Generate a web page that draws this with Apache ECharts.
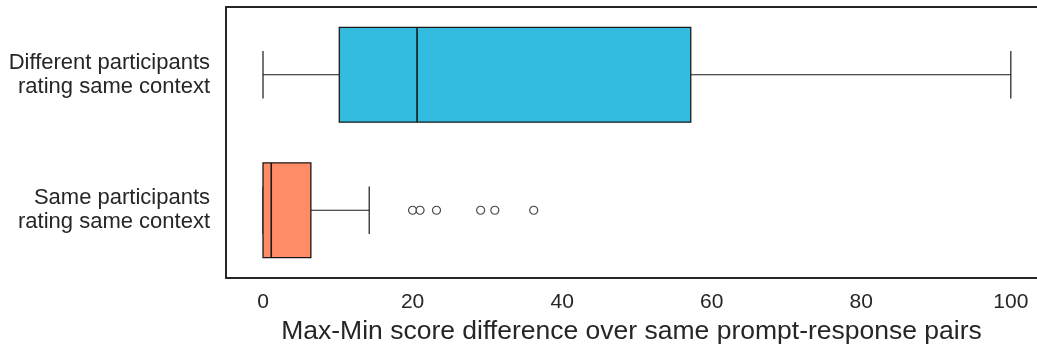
<!DOCTYPE html>
<html>
<head>
<meta charset="utf-8">
<script src="https://cdn.jsdelivr.net/npm/echarts@6/dist/echarts.min.js"></script>
<style>html,body{margin:0;padding:0;background:#fff;overflow:hidden}#c{width:1037px;height:346px}</style>
</head>
<body>
<div id="c"></div>
<script>
// categories (top to bottom)
const categories = ['Different participants\nrating same context', 'Same participants\nrating same context'];
// [min whisker, Q1, median, Q3, max whisker]
const boxDifferent = [0, 10.2, 20.6, 57.2, 100];
const boxSame = [0, 0, 1.1, 6.4, 14.2];
// outliers for "Same participants"
const outliersSame = [20, 21, 23.2, 29.1, 31, 36.2];
const boxColors = ['#33BBE0', '#FF8C66'];
const xTicks = [0, 20, 40, 60, 80, 100];
const xTitle = 'Max-Min score difference over same prompt-response pairs';

const boxes = [boxDifferent, boxSame];
const boxData = boxes.map((b, i) => [i].concat(b));
const outlierData = outliersSame.map(v => [v, 1]);

const chart = echarts.init(document.getElementById('c'), null, {renderer: 'canvas'});
const font = 'Liberation Sans, Arial, sans-serif';
const spine = {show: true, onZero: false, lineStyle: {color: '#262626', width: 2}};

chart.setOption({
  animation: false,
  grid: {left: 226, right: 0, top: 7, bottom: 68, show: false, containLabel: false, outerBoundsMode: 'none'},
  xAxis: [{
    type: 'value', min: -4.95, max: 103.5, position: 'bottom',
    axisLine: spine, axisTick: {show: false}, splitLine: {show: false},
    axisLabel: {
      color: '#262626', fontSize: 21, fontFamily: font, margin: 14,
      customValues: xTicks
    },
    name: xTitle, nameLocation: 'middle', nameGap: 36,
    nameTextStyle: {color: '#262626', fontSize: 26.5, fontFamily: font}
  }, {
    type: 'value', min: -4.95, max: 103.5, position: 'top',
    axisLine: spine, axisTick: {show: false}, splitLine: {show: false},
    axisLabel: {show: false}
  }],
  yAxis: {
    type: 'category', data: categories, inverse: true, position: 'left',
    axisLine: spine, axisTick: {show: false}, splitLine: {show: false},
    axisLabel: {color: '#262626', fontSize: 22, fontFamily: font, margin: 16, align: 'right', lineHeight: 24}
  },
  series: [
    {
      type: 'custom',
      data: boxData,
      encode: {x: [1, 2, 3, 4, 5], y: 0},
      renderItem: function (params, api) {
        const ci = api.value(0);
        const c = api.coord([0, ci]);
        const yc = c[1];
        const band = api.size([0, 1])[1];
        const h = band * 0.7;
        const x = v => api.coord([api.value(v), ci])[0];
        const xmin = x(1), q1 = x(2), med = x(3), q3 = x(4), xmax = x(5);
        const capH = h / 2;
        const lineStyle = {stroke: '#1a1a1a', lineWidth: 1.2};
        return {
          type: 'group',
          children: [
            {type: 'line', shape: {x1: xmin, y1: yc, x2: q1, y2: yc}, style: lineStyle},
            {type: 'line', shape: {x1: q3, y1: yc, x2: xmax, y2: yc}, style: lineStyle},
            {type: 'line', shape: {x1: xmin, y1: yc - capH / 2, x2: xmin, y2: yc + capH / 2}, style: lineStyle},
            {type: 'line', shape: {x1: xmax, y1: yc - capH / 2, x2: xmax, y2: yc + capH / 2}, style: lineStyle},
            {type: 'rect', shape: {x: q1, y: yc - h / 2, width: q3 - q1, height: h},
              style: {fill: boxColors[ci], stroke: '#1a1a1a', lineWidth: 1.3}},
            {type: 'line', shape: {x1: med, y1: yc - h / 2, x2: med, y2: yc + h / 2},
              style: {stroke: '#1a1a1a', lineWidth: 1.6}}
          ]
        };
      },
      z: 2
    },
    {
      type: 'scatter',
      data: outlierData,
      symbol: 'circle', symbolSize: 8,
      itemStyle: {color: '#ffffff', borderColor: '#1a1a1a', borderWidth: 1.2},
      z: 3
    }
  ]
});
</script>
</body>
</html>
